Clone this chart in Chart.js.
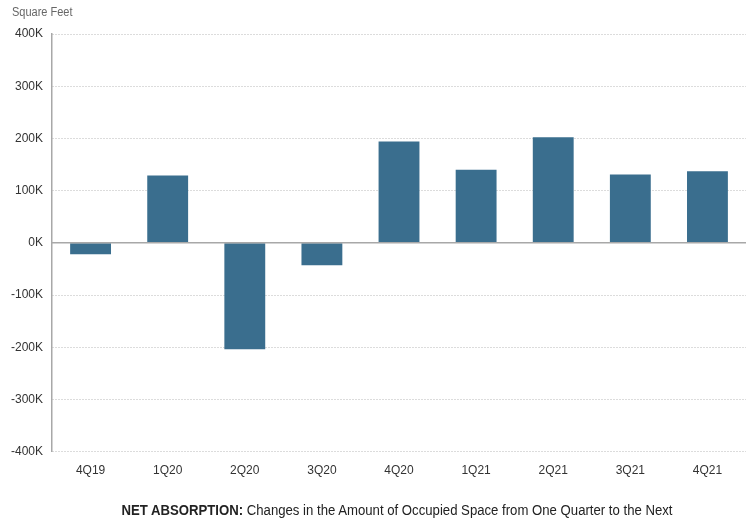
<!DOCTYPE html>
<html>
<head>
<meta charset="utf-8">
<script src="https://cdn.jsdelivr.net/npm/chart.js@4"></script>
<style>
  html, body { margin: 0; padding: 0; background: #fff; }
  #wrap { position: relative; width: 749px; height: 523px; }
  #unit { position: absolute; left: 12px; top: 5px; font: 12.5px 'Liberation Sans', sans-serif; color: #666;
          transform: scaleX(0.88); transform-origin: left top; }
  #caption { position: absolute; left: 0; width: 794px; top: 502px; text-align: center; font: 14px 'Liberation Sans', sans-serif; color: #222;
             transform: scaleX(0.94); transform-origin: 397px 0; }
  #caption b { font-weight: bold; }
</style>
</head>
<body>
<div id="wrap">
  <canvas id="absorptionChart" width="749" height="523"></canvas>
  <div id="unit">Square Feet</div>
  <div id="caption"><b>NET ABSORPTION:</b> Changes in the Amount of Occupied Space from One Quarter to the Next</div>
</div>
<script>
const quarters = ['4Q19', '1Q20', '2Q20', '3Q20', '4Q20', '1Q21', '2Q21', '3Q21', '4Q21'];
const netAbsorption = [-22000, 129000, -204000, -43000, 194000, 140000, 202000, 131000, 137000];
const yMin = -400000;
const yMax = 400000;
const yStep = 100000;

const FONT = "'Liberation Sans', sans-serif";

// solid zero baseline drawn over the dotted grid
const zeroLine = {
  id: 'zeroLine',
  afterDatasetsDraw(chart) {
    const { ctx, chartArea, scales } = chart;
    const y = scales.y.getPixelForValue(0);
    ctx.save();
    ctx.strokeStyle = '#a8a8a8';
    ctx.lineWidth = 1.5;
    ctx.beginPath();
    ctx.moveTo(chartArea.left, y);
    ctx.lineTo(chartArea.right, y);
    ctx.stroke();
    ctx.restore();
  }
};

new Chart(document.getElementById('absorptionChart'), {
  type: 'bar',
  data: {
    labels: quarters,
    datasets: [{
      label: 'Net Absorption',
      data: netAbsorption,
      backgroundColor: '#3a6e8e',
      categoryPercentage: 1.0,
      barPercentage: 0.53
    }]
  },
  options: {
    responsive: false,
    animation: false,
    layout: { padding: { top: 34, right: 3, bottom: 41, left: 2 } },
    plugins: {
      legend: { display: false },
      tooltip: { enabled: false }
    },
    scales: {
      x: {
        grid: { display: false },
        border: { display: false },
        ticks: { color: '#333', font: { family: FONT, size: 12 }, padding: 4 }
      },
      y: {
        min: yMin,
        max: yMax,
        ticks: {
          stepSize: yStep,
          color: '#333',
          font: { family: FONT, size: 12 },
          padding: 9,
          callback: v => (v / 1000) + 'K'
        },
        grid: { color: '#b8b8b8', lineWidth: 1, drawTicks: false },
        border: { display: true, color: '#a8a8a8', width: 1.5, dash: [1, 2] }
      }
    }
  },
  plugins: [zeroLine]
});
</script>
</body>
</html>
